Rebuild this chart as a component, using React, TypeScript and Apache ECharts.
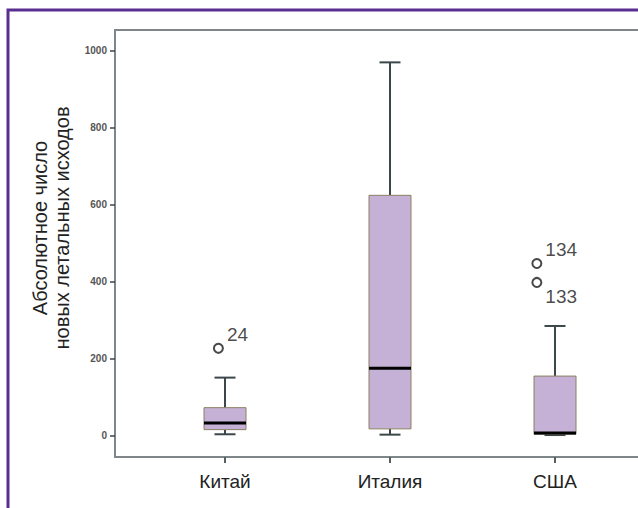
import React, { useEffect, useRef } from "react";
import * as echarts from "echarts";

const categories = ["Китай", "Италия", "США"];
const whiskerLow = [4, 3, 2];
const quartile1 = [16, 18, 4];
const medians = [33, 175, 7];
const quartile3 = [73, 624, 155];
const whiskerHigh = [151, 969, 285];

const outlierValues = [227, 447, 398];
const outlierCategory = [1, 3, 3];
const outlierShift = [-0.04, -0.11, -0.11];
const outlierLabels = ["24", "134", "133"];
const outlierLabelAbove = [true, true, false];

const yTicks = [0, 200, 400, 600, 800, 1000];
const xTicks = [1, 2, 3];

const FONT = "'Liberation Sans', Arial, sans-serif";

export default function App() {
  const ref = useRef<HTMLDivElement>(null);

  useEffect(() => {
    if (!ref.current) return;
    const chart = echarts.init(ref.current, null, { renderer: "svg" });

    const boxData = categories.map((_, i) => [
      i + 1,
      whiskerLow[i],
      quartile1[i],
      medians[i],
      quartile3[i],
      whiskerHigh[i],
    ]);

    const outlierData = outlierValues.map((v, i) => ({
      value: [outlierCategory[i] + outlierShift[i], v],
      label: {
        show: true,
        formatter: outlierLabels[i],
        position: "right",
        distance: 3,
        offset: [0, outlierLabelAbove[i] ? -14 : 14],
        fontSize: 19,
        color: "#1a1a1a",
        fontFamily: FONT,
      },
    }));

    const axisColor = "#7f8689";
    // plot spans 115..638 px; 165 px per category step, first centre 110 px from the left axis
    const xMin = 1 / 3;
    const xMax = 1 / 3 + 523 / 165;

    const option: any = {
      animation: false,
      backgroundColor: "#ffffff",
      grid: {
        left: 115,
        top: 30,
        right: 0,
        bottom: 51,
        outerBoundsMode: "none",
        containLabel: false,
      },
      xAxis: [
        {
          type: "value",
          min: xMin,
          max: xMax,
          splitLine: { show: false },
          axisLine: { show: true, onZero: false, lineStyle: { color: axisColor, width: 2 } },
          axisTick: {
            show: true,
            customValues: xTicks,
            length: 6,
            lineStyle: { color: "#566064", width: 2 },
          },
          axisLabel: {
            customValues: xTicks,
            formatter: (v: number) => categories[Math.round(v) - 1] ?? "",
            fontSize: 19,
            color: "#222",
            margin: 15,
            fontFamily: FONT,
          },
        },
        {
          type: "value",
          position: "top",
          min: xMin,
          max: xMax,
          splitLine: { show: false },
          axisLine: { show: true, onZero: false, lineStyle: { color: axisColor, width: 2 } },
          axisTick: { show: false },
          axisLabel: { show: false },
        },
      ],
      yAxis: {
        type: "value",
        min: -55,
        max: 1053,
        splitLine: { show: false },
        axisLine: { show: true, onZero: false, lineStyle: { color: axisColor, width: 2 } },
        axisTick: {
          show: true,
          customValues: yTicks,
          length: 5,
          lineStyle: { color: "#3c4448", width: 1.5 },
        },
        axisLabel: {
          customValues: yTicks,
          formatter: (v: number) => String(v),
          fontSize: 10,
          fontWeight: "bold",
          color: "#555",
          margin: 8,
          fontFamily: FONT,
        },
      },
      graphic: [
        {
          type: "rect",
          shape: { x: 8, y: 10, width: 700, height: 600 },
          style: { fill: "none", stroke: "#5a2d90", lineWidth: 3 },
          silent: true,
        },
        {
          type: "text",
          x: 51,
          y: 228,
          rotation: Math.PI / 2,
          style: {
            text: "Абсолютное число\nновых летальных исходов",
            fontSize: 20,
            lineHeight: 22,
            fill: "#222",
            align: "center",
            verticalAlign: "middle",
            fontFamily: FONT,
          },
          silent: true,
        },
      ],
      series: [
        {
          type: "custom",
          data: boxData,
          encode: { x: 0, y: [1, 2, 3, 4, 5] },
          renderItem: (params: any, api: any) => {
            const x = api.value(0);
            const pLow = api.coord([x, api.value(1)]);
            const pQ1 = api.coord([x, api.value(2)]);
            const pMed = api.coord([x, api.value(3)]);
            const pQ3 = api.coord([x, api.value(4)]);
            const pHigh = api.coord([x, api.value(5)]);
            const cx = pMed[0];
            const half = 21;
            const capHalf = 10.5;
            const wStyle = { stroke: "#3c474b", lineWidth: 2 };
            return {
              type: "group",
              children: [
                { type: "line", shape: { x1: cx, y1: pHigh[1], x2: cx, y2: pQ3[1] }, style: wStyle },
                { type: "line", shape: { x1: cx, y1: pQ1[1], x2: cx, y2: pLow[1] }, style: wStyle },
                { type: "line", shape: { x1: cx - capHalf, y1: pHigh[1], x2: cx + capHalf, y2: pHigh[1] }, style: wStyle },
                { type: "line", shape: { x1: cx - capHalf, y1: pLow[1], x2: cx + capHalf, y2: pLow[1] }, style: wStyle },
                {
                  type: "rect",
                  shape: { x: cx - half, y: pQ3[1], width: half * 2, height: pQ1[1] - pQ3[1] },
                  style: { fill: "#c5b1d6", stroke: "#8b8060", lineWidth: 1 },
                },
                {
                  type: "line",
                  shape: { x1: cx - half, y1: pMed[1], x2: cx + half, y2: pMed[1] },
                  style: { stroke: "#000", lineWidth: 3 },
                },
              ],
            };
          },
        },
        {
          type: "scatter",
          data: outlierData,
          symbol: "emptyCircle",
          symbolSize: 9,
          itemStyle: { color: "#1a1a1a", borderColor: "#1a1a1a", borderWidth: 1.8 },
          emphasis: { disabled: true },
        },
      ],
    };

    chart.setOption(option);
    return () => chart.dispose();
  }, []);

  return (
    <div
      ref={ref}
      style={{ position: "fixed", left: 0, top: 0, width: 638, height: 508, background: "#fff" }}
    />
  );
}
